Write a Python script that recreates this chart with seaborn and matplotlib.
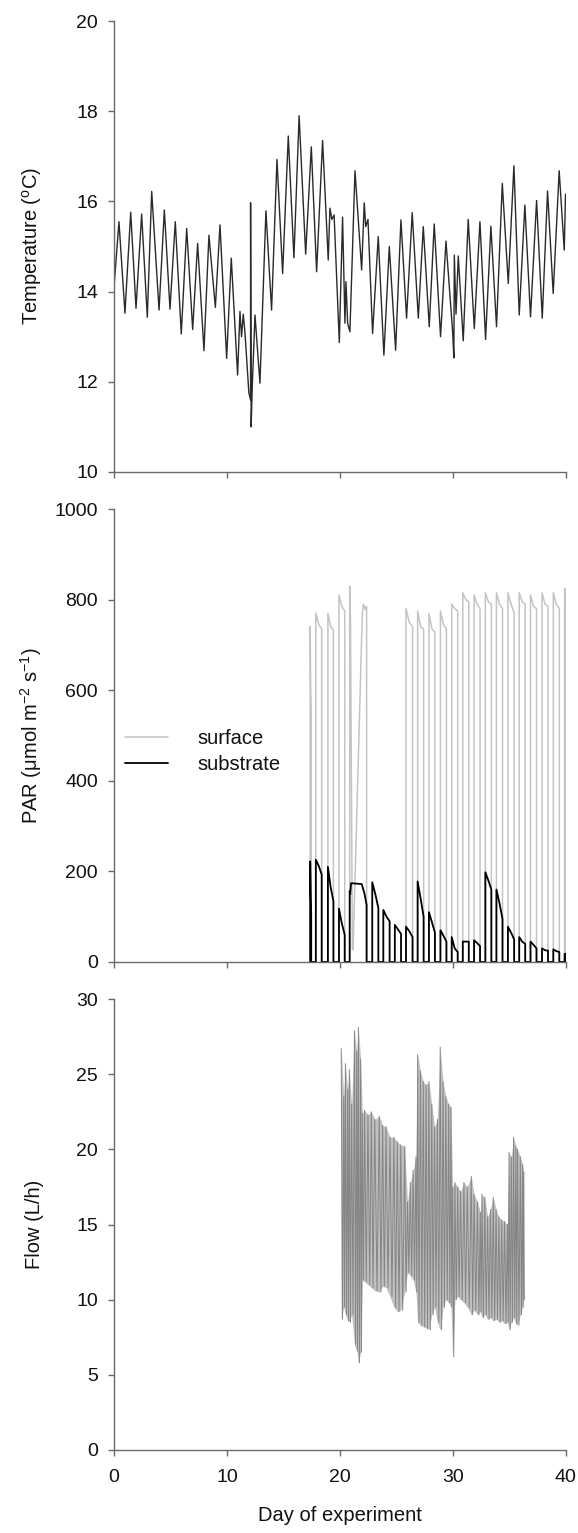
import numpy as np
import pandas as pd
import matplotlib
matplotlib.use("Agg")
import matplotlib.pyplot as plt
import seaborn as sns

# ---------------- data ----------------
# Temperature: peaks / troughs (day, degC)
temp_day = [0.0, 0.44, 0.97, 1.48, 1.95, 2.45, 2.95, 3.34, 3.99, 4.46, 4.96, 5.43, 5.96,
            6.44, 6.97, 7.41, 7.97, 8.41, 8.98, 9.39, 9.98, 10.39, 10.95, 11.16, 11.3,
            11.45, 11.6, 11.95, 12.1, 12.1, 12.15, 12.25, 12.49, 12.93, 13.46, 13.96,
            14.44, 14.94, 15.44, 15.94, 16.4, 16.98, 17.48, 17.95, 18.48, 18.98, 19.13,
            19.3, 19.5, 19.96, 20.25, 20.46, 20.55, 20.7, 20.9, 21.35, 21.94, 22.17,
            22.3, 22.5, 22.91, 23.41, 23.91, 24.39, 24.95, 25.42, 25.92, 26.42, 26.96,
            27.4, 27.93, 28.37, 28.93, 29.41, 30.0, 30.11, 30.15, 30.3, 30.5, 30.94,
            31.38, 31.92, 32.42, 32.92, 33.39, 33.89, 34.4, 34.93, 35.43, 35.9, 36.4,
            36.9, 37.44, 37.94, 38.41, 38.91, 39.44, 39.89, 40.0]
temp_val = [14.1, 15.55, 13.52, 15.76, 13.63, 15.72, 13.43, 16.22, 13.59, 15.81, 13.61,
            15.55, 13.06, 15.4, 13.16, 15.07, 12.69, 15.25, 13.65, 15.48, 12.52, 14.74,
            12.15, 13.56, 13.0, 13.5, 13.1, 11.75, 11.6, 15.97, 11.0, 11.9, 13.48, 11.97,
            15.79, 13.59, 16.93, 14.4, 17.45, 14.75, 17.9, 14.83, 17.21, 14.44, 17.35,
            14.7, 15.85, 15.6, 15.7, 12.87, 15.65, 13.3, 14.22, 13.3, 13.11, 16.68,
            14.48, 15.97, 15.44, 15.6, 13.07, 15.22, 12.59, 15.0, 12.7, 15.59, 13.41,
            15.75, 13.41, 15.44, 13.22, 15.5, 13.0, 15.12, 13.11, 12.53, 14.81, 13.5,
            14.79, 12.91, 15.6, 13.18, 15.55, 12.94, 15.45, 13.22, 16.4, 14.18, 16.79,
            13.48, 15.92, 13.44, 16.02, 13.41, 16.23, 13.96, 16.68, 14.92, 16.16]

# PAR light cycles: on / off day and levels (start, middle, end of light phase)
par_on = [17.38, 17.88, 18.95, 19.93, 20.88, 22.88, 23.86, 24.88, 25.87, 26.9, 27.9,
          28.92, 29.92, 30.9, 31.9, 32.9, 33.88, 34.9, 35.9, 36.9, 37.92, 38.92, 39.92]
par_off = [17.47, 18.40, 19.44, 20.44, 22.38, 23.42, 24.42, 25.43, 26.45, 27.43, 28.43,
           29.45, 30.45, 31.43, 32.43, 33.43, 34.42, 35.45, 36.43, 37.43, 38.45, 39.45, 40.0]
surf_start = [741, 770, 770, 810, 830, 0, 0, 0, 780, 775, 770, 775, 790, 815, 810, 815,
              815, 815, 815, 810, 815, 815, 825]
surf_mid = [600, 745, 740, 785, 0, 0, 0, 0, 750, 740, 735, 745, 780, 800, 790, 795, 790,
            790, 795, 785, 790, 790, 822]
surf_end = [560, 735, 732, 775, 0, 0, 0, 0, 740, 735, 728, 735, 775, 795, 780, 790, 780,
            770, 790, 780, 785, 780, 820]
sub_start = [222, 226, 210, 118, 157, 176, 115, 82, 78, 178, 110, 70, 55, 45, 48, 198,
             160, 78, 55, 45, 30, 28, 18]
sub_mid = [150, 212, 165, 85, 174, 150, 100, 72, 68, 140, 88, 58, 30, 45, 42, 180, 130,
           65, 45, 38, 26, 24, 18]
sub_end = [105, 193, 134, 60, 126, 119, 90, 62, 55, 100, 65, 45, 22, 45, 35, 160, 95, 50,
           40, 30, 25, 22, 18]
# irregular cycle around day 21
surf_irr_day = [20.88, 20.88, 20.95, 21.12, 21.18, 22.0, 22.1, 22.25, 22.38, 22.38]
surf_irr_val = [0, 830, 755, 27, 27, 770, 790, 778, 785, 0]
sub_irr_day = [20.88, 20.88, 20.93, 21.0, 21.95, 22.2, 22.38, 22.38]
sub_irr_val = [0, 157, 150, 174, 172, 150, 126, 0]
IRR = 4

# Flow envelope readings: day, upper, lower (L/h)
flow_day = [20.13, 20.35, 20.5, 20.7, 20.85, 21.05, 21.3, 21.5, 21.65, 21.85, 22.0, 22.2,
            22.5, 22.8, 23.1, 23.5, 23.8, 24.1, 24.45, 24.8, 25.1, 25.4, 25.75, 26.0,
            26.25, 26.5, 26.75, 26.9, 27.15, 27.4, 27.65, 27.9, 28.15, 28.4, 28.65, 28.9,
            29.15, 29.4, 29.65, 29.85, 30.0, 30.2, 30.45, 30.7, 31.0, 31.3, 31.65, 31.9,
            32.2, 32.45, 32.6, 32.85, 33.1, 33.35, 33.6, 33.85, 34.1, 34.35, 34.6, 34.85,
            35.0, 35.2, 35.4, 35.6, 35.75, 36.0, 36.2, 36.3]
flow_high = [26.7, 23.5, 25.7, 24.0, 25.3, 23.0, 27.9, 26.5, 28.1, 26.0, 22.4, 22.6, 22.3,
             22.5, 22.0, 22.2, 21.6, 21.5, 20.8, 20.8, 20.5, 20.3, 20.2, 16.5, 17.8, 18.6,
             19.5, 26.3, 25.2, 24.5, 24.3, 24.5, 23.0, 21.5, 22.0, 26.8, 24.5, 23.5, 23.0,
             22.8, 17.5, 17.8, 17.5, 17.2, 17.8, 17.5, 18.2, 17.0, 16.5, 15.8, 17.0, 16.8,
             15.5, 16.0, 16.8, 16.0, 15.5, 15.3, 15.2, 15.0, 19.8, 19.5, 20.8, 20.2, 20.0,
             19.5, 19.0, 18.5]
flow_low = [8.7, 9.5, 9.0, 8.6, 8.5, 9.0, 7.0, 6.6, 5.8, 6.5, 11.3, 11.2, 11.0, 10.8, 10.6,
            10.5, 10.9, 10.8, 10.2, 9.5, 9.2, 9.3, 10.5, 11.8, 11.6, 11.3, 10.5, 8.5, 8.3,
            8.2, 8.1, 8.0, 9.0, 9.5, 8.5, 8.0, 9.5, 10.0, 9.8, 9.5, 6.2, 10.0, 10.2, 10.0,
            9.8, 9.5, 9.0, 9.3, 9.0, 9.2, 8.8, 9.0, 8.7, 8.8, 8.6, 8.7, 8.5, 8.6, 8.4, 8.5,
            8.0, 8.5, 8.8, 8.4, 8.3, 9.0, 9.5, 10.0]

x_ticks = [0, 10, 20, 30, 40]
temp_ticks = [10, 12, 14, 16, 18, 20]
par_ticks = [0, 200, 400, 600, 800, 1000]
flow_ticks = [0, 5, 10, 15, 20, 25, 30]

# ---------------- build line vertices from the readings ----------------
def build(start, mid, end, irr_d, irr_v):
    d, v = [], []
    for i in range(len(par_on)):
        if i == IRR:
            d += irr_d
            v += irr_v
            continue
        a, b = par_on[i], par_off[i]
        d += [a, a, (a + b) / 2, b, b]
        v += [0, start[i], mid[i], end[i], 0]
    return pd.DataFrame({"day": d, "val": v})

surf_df = build(surf_start, surf_mid, surf_end, surf_irr_day, surf_irr_val)
sub_df = build(sub_start, sub_mid, sub_end, sub_irr_day, sub_irr_val)

fd, fv = [], []
for i in range(len(flow_day)):
    nxt = flow_day[i + 1] if i + 1 < len(flow_day) else flow_day[i] + 0.1
    fd += [flow_day[i], (flow_day[i] + nxt) / 2]
    fv += [flow_high[i], flow_low[i]]
flow_df = pd.DataFrame({"day": fd, "val": fv})
temp_df = pd.DataFrame({"day": temp_day, "val": temp_val})

# ---------------- style ----------------
sns.set_style("ticks")
plt.rcParams["font.family"] = ["Liberation Sans", "DejaVu Sans"]
plt.rcParams["mathtext.fontset"] = "custom"
plt.rcParams["mathtext.rm"] = "Liberation Sans"
plt.rcParams["mathtext.it"] = "Liberation Sans:italic"
plt.rcParams["mathtext.default"] = "regular"

spine_c = "#6a6a6a"
txt_c = "#111111"
fig = plt.figure(figsize=(5.78, 15.33), dpi=100)
W = 451.5 / 578
L = 114 / 578
H = 451 / 1533
ax1 = fig.add_axes([L, 1 - 472 / 1533, W, H])
ax2 = fig.add_axes([L, 1 - 962 / 1533, W, 453 / 1533])
ax3 = fig.add_axes([L, 1 - 1450 / 1533, W, H])

sns.lineplot(data=temp_df, x="day", y="val", ax=ax1, color="#2a2a2a", lw=1.0,
             estimator=None, sort=False)
sns.lineplot(data=surf_df, x="day", y="val", ax=ax2, color="#c4c4c4", lw=1.1,
             estimator=None, sort=False, label="surface")
sns.lineplot(data=sub_df, x="day", y="val", ax=ax2, color="#000000", lw=1.3,
             estimator=None, sort=False, label="substrate")
ax3.fill_between(flow_day, flow_low, flow_high, color="#c0c0c0", lw=0)
sns.lineplot(data=flow_df, x="day", y="val", ax=ax3, color="#858585", lw=0.7,
             estimator=None, sort=False)

fs_tick = 14
fs_lab = 14.5
for ax, yl, yt, lab in [(ax1, (10, 20), temp_ticks, "Temperature ($^{o}$C)"),
                        (ax2, (0, 1000), par_ticks, "PAR (\u03bcmol m$^{-2}$ s$^{-1}$)"),
                        (ax3, (0, 30), flow_ticks, "Flow (L/h)")]:
    ax.set_xlim(0, 40)
    ax.set_ylim(*yl)
    ax.set_xticks(x_ticks)
    ax.set_yticks(yt)
    for s in ["top", "right"]:
        ax.spines[s].set_visible(False)
    for s in ["left", "bottom"]:
        ax.spines[s].set_color(spine_c)
        ax.spines[s].set_linewidth(1.0)
    ax.tick_params(axis="both", direction="out", length=4.5, width=1.0, color=spine_c,
                   labelsize=fs_tick, labelcolor=txt_c)
    ax.tick_params(axis="y", pad=7)
    ax.tick_params(axis="x", pad=9)
    ax.set_ylabel(lab, fontsize=fs_lab, color=txt_c)
    ax.yaxis.set_label_coords(-0.155, 0.5)
    ax.set_xlabel("")

ax1.set_xticklabels([])
ax2.set_xticklabels([])
ax3.set_xlabel("Day of experiment", fontsize=fs_lab, color=txt_c)
ax3.xaxis.set_label_coords(0.5, -0.125)

leg = ax2.legend(loc="upper left", bbox_to_anchor=(0.025, 0.515), frameon=False,
                 fontsize=fs_lab, handlelength=2.1, handletextpad=1.5, labelspacing=0.35,
                 borderpad=0, borderaxespad=0)
for t in leg.get_texts():
    t.set_color(txt_c)

fig.savefig("out.png", dpi=100)
